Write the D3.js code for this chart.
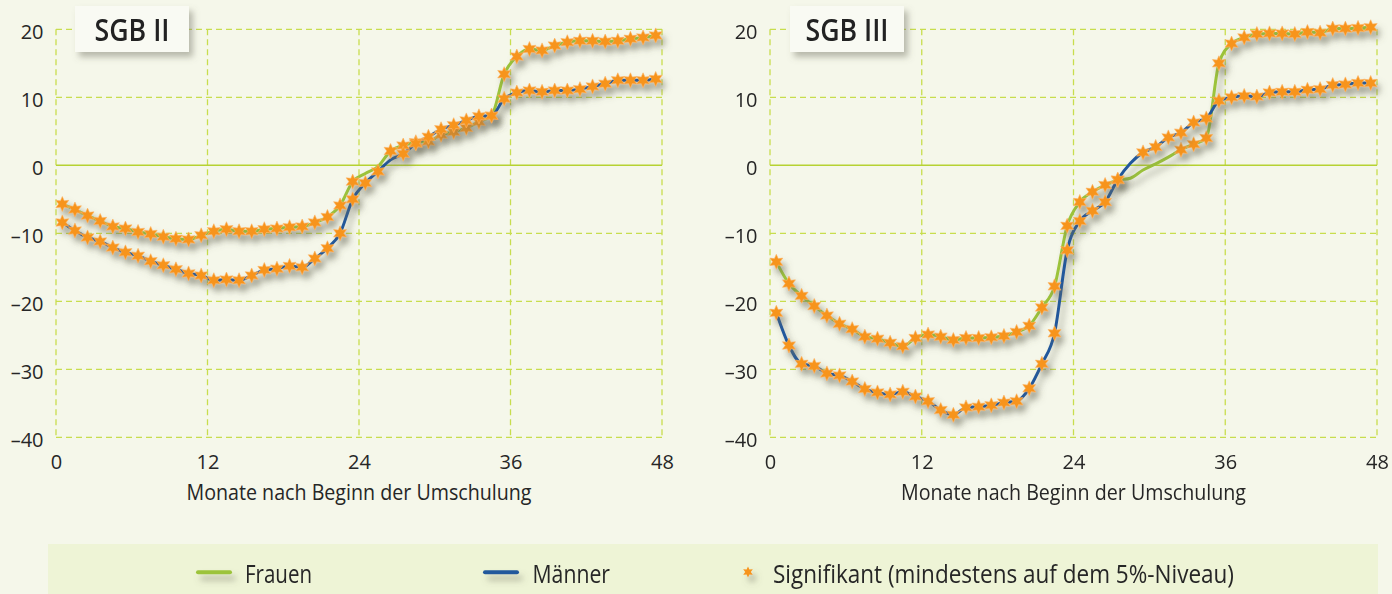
<!DOCTYPE html>
<html><head><meta charset="utf-8">
<script src="https://cdn.jsdelivr.net/npm/d3@7"></script>
<style>
html,body{margin:0;padding:0;background:#f5f7ea;}
svg{display:block;font-family:"Open Sans",sans-serif;}
</style></head>
<body><svg id="chart" width="1392" height="594"></svg>
<script>
// ---- data ----
const months = [1,2,3,4,5,6,7,8,9,10,11,12,13,14,15,16,17,18,19,20,21,22,23,24,
  25,26,27,28,29,30,31,32,33,34,35,36,37,38,39,40,41,42,43,44,45,46,47,48];
const xTicks = [0,12,24,36,48];
const yTicks = [-40,-30,-20,-10,0,10,20];
const panelTitles = ["SGB II","SGB III"];
const seriesNames = ["Frauen","Männer"];
const legendSigLabel = "Signifikant (mindestens auf dem 5%-Niveau)";
const axisTitle = "Monate nach Beginn der Umschulung";

const sgb2Frauen = [-5.7,-6.5,-7.4,-8.2,-9.0,-9.3,-9.8,-10.1,-10.5,-10.8,
  -10.9,-10.3,-9.7,-9.4,-9.7,-9.7,-9.4,-9.3,-9.1,-9.0,
  -8.4,-7.6,-5.9,-2.4,-1.2,-0.2,2.1,2.9,3.4,3.5,
  4.5,4.9,5.5,6.4,7.3,13.4,16.0,17.1,16.9,17.6,
  18.1,18.3,18.3,18.2,18.3,18.6,18.8,19.1];
const sgb2Maenner = [-8.4,-9.6,-10.6,-11.2,-12.1,-12.8,-13.3,-14.1,-14.7,-15.3,
  -15.9,-16.2,-16.9,-16.8,-16.9,-16.2,-15.4,-15.2,-14.8,-15.0,
  -13.7,-12.2,-10.0,-5.0,-2.6,-0.9,0.8,1.7,3.2,4.2,
  5.3,5.9,6.6,7.2,7.3,9.8,10.7,11.0,10.8,11.0,
  11.0,11.2,11.6,12.0,12.5,12.5,12.5,12.7];
const sgb3Frauen = [-14.2,-17.4,-19.2,-20.7,-22.1,-23.3,-24.1,-25.2,-25.5,-26.1,
  -26.6,-25.4,-24.9,-25.2,-25.7,-25.4,-25.4,-25.3,-25.1,-24.5,
  -23.6,-20.9,-17.8,-8.9,-5.4,-3.9,-2.9,-2.2,-1.9,-0.7,
  0.2,1.2,2.3,3.1,4.0,15.0,17.9,18.8,19.3,19.4,
  19.4,19.3,19.6,19.5,20.1,20.1,20.2,20.3];
const sgb3Maenner = [-21.7,-26.5,-29.2,-29.5,-30.6,-30.9,-31.8,-32.9,-33.4,-33.7,
  -33.3,-34.0,-34.7,-36.0,-36.7,-35.6,-35.5,-35.3,-34.9,-34.7,
  -32.8,-29.2,-24.7,-12.5,-8.2,-6.7,-5.4,-2.1,0.3,1.9,
  2.7,4.1,4.8,6.3,6.9,9.5,10.0,10.2,10.1,10.7,
  10.8,10.8,11.1,11.2,11.8,11.9,12.1,12.1];
// significance flags (1 = significant at 5% level)
const sgb2FrauenSig = [1,1,1,1,1,1,1,1,1,1,1,1,1,1,1,1,1,1,1,1,1,1,1,1,
  0,0,1,1,1,1,1,1,1,1,1,1,1,1,1,1,1,1,1,1,1,1,1,1];
const sgb2MaennerSig = [1,1,1,1,1,1,1,1,1,1,1,1,1,1,1,1,1,1,1,1,1,1,1,1,
  1,1,0,1,1,1,1,1,1,1,1,1,1,1,1,1,1,1,1,1,1,1,1,1];
const sgb3FrauenSig = [1,1,1,1,1,1,1,1,1,1,1,1,1,1,1,1,1,1,1,1,1,1,1,1,
  1,1,1,1,0,0,0,0,1,1,1,1,1,1,1,1,1,1,1,1,1,1,1,1];
const sgb3MaennerSig = [1,1,1,1,1,1,1,1,1,1,1,1,1,1,1,1,1,1,1,1,1,1,1,1,
  1,1,1,1,0,1,1,1,1,1,1,1,1,1,1,1,1,1,1,1,1,1,1,1];

// ---- styles ----
const colFrauen = "#9cc33a", colMaenner = "#22589c", colStar = "#f7941d";
const gridCol = "#c8dd4e", zeroCol = "#b6d232", textCol = "#262626";

const svg = d3.select("#chart");
const defs = svg.append("defs");
const sh = defs.append("filter").attr("id","shadow").attr("filterUnits","userSpaceOnUse")
  .attr("x",-50).attr("y",-50).attr("width",1500).attr("height",700);
sh.append("feDropShadow").attr("dx",4).attr("dy",6).attr("stdDeviation",3)
  .attr("flood-color","#6e6e5c").attr("flood-opacity",0.5);
const sh2 = defs.append("filter").attr("id","boxshadow").attr("x","-20%").attr("y","-30%").attr("width","150%").attr("height","180%");
sh2.append("feDropShadow").attr("dx",4).attr("dy",5).attr("stdDeviation",3)
  .attr("flood-color","#7a7a6a").attr("flood-opacity",0.5);

// six-pointed star symbol
const star6 = {
  draw(ctx, size) {
    const R = Math.sqrt(size) * 0.75, r = R * 0.5;
    for (let i = 0; i < 12; i++) {
      const a = Math.PI / 6 * i - Math.PI / 2;
      const rad = i % 2 === 0 ? R : r;
      const px = Math.cos(a) * rad, py = Math.sin(a) * rad;
      if (i === 0) ctx.moveTo(px, py); else ctx.lineTo(px, py);
    }
    ctx.closePath();
  }
};

const panels = [
  {title: panelTitles[0], x0: 56, x1: 662, titleBox:[75,6,114,46], titleW: 75,
   series:[{v:sgb2Frauen,s:sgb2FrauenSig,c:colFrauen},{v:sgb2Maenner,s:sgb2MaennerSig,c:colMaenner}]},
  {title: panelTitles[1], x0: 770, x1: 1377, titleBox:[790,6,114,46], titleW: 83,
   series:[{v:sgb3Frauen,s:sgb3FrauenSig,c:colFrauen},{v:sgb3Maenner,s:sgb3MaennerSig,c:colMaenner}]}
];
const yTop = 29.3, yBot = 437.3;

panels.forEach(p => {
  const x = d3.scaleLinear().domain([0,48]).range([p.x0, p.x1]);
  const y = d3.scaleLinear().domain([-40,20]).range([yBot, yTop]);
  const g = svg.append("g");

  // grid
  g.append("g").selectAll("line").data(yTicks.filter(d=>d!==0)).join("line")
    .attr("x1",p.x0).attr("x2",p.x1).attr("y1",d=>y(d)).attr("y2",d=>y(d))
    .attr("stroke",gridCol).attr("stroke-width",1.3).attr("stroke-dasharray","6,4");
  g.append("g").selectAll("line").data(xTicks).join("line")
    .attr("y1",yTop).attr("y2",yBot).attr("x1",d=>x(d)).attr("x2",d=>x(d))
    .attr("stroke",gridCol).attr("stroke-width",1.3).attr("stroke-dasharray","6,4");
  g.append("line").attr("x1",p.x0).attr("x2",p.x1).attr("y1",y(0)).attr("y2",y(0))
    .attr("stroke",zeroCol).attr("stroke-width",1.6);

  // axes
  const fmt = d => d < 0 ? "\u2013" + Math.abs(d) : String(d);
  const ya = g.append("g").attr("transform",`translate(${p.x0 - 12.5},0)`)
    .call(d3.axisLeft(y).tickValues(yTicks).tickSize(0).tickPadding(0).tickFormat(fmt));
  ya.select(".domain").remove();
  ya.selectAll("text").attr("font-size",20).attr("fill",textCol)
    .attr("font-family","Open Sans, sans-serif").attr("dy","9.5px");
  const xa = g.append("g").attr("transform",`translate(0,${yBot})`)
    .call(d3.axisBottom(x).tickValues(xTicks).tickSize(0).tickPadding(0));
  xa.select(".domain").remove();
  xa.selectAll("text").attr("font-size",20).attr("fill",textCol)
    .attr("font-family","Open Sans, sans-serif").attr("y",32).attr("dy",0);
  g.append("text").attr("x",(p.x0+p.x1)/2).attr("y",500).attr("text-anchor","middle")
    .attr("font-size",21.5).attr("fill",textCol)
    .attr("textLength",345).attr("lengthAdjust","spacingAndGlyphs").text(axisTitle);

  // series
  const line = d3.line().x((d,i)=>x(months[i]-0.5)).y(d=>y(d)).curve(d3.curveMonotoneX);
  p.series.forEach(s => {
    const sg = g.append("g").attr("filter","url(#shadow)");
    sg.append("path").attr("d",line(s.v)).attr("fill","none").attr("stroke",s.c).attr("stroke-width",3);
  });
  p.series.forEach(s => {
    const sg = g.append("g").attr("filter","url(#shadow)");
    sg.selectAll("path").data(s.v.map((v,i)=>({v,i})).filter(d=>s.s[d.i]===1)).join("path")
      .attr("transform",d=>`translate(${x(months[d.i]-0.5)},${y(d.v)})`)
      .attr("d",d3.symbol().type(star6).size(100)())
      .attr("fill",colStar).attr("stroke","#fbb465").attr("stroke-width",0.6);
  });

  // title box
  const [bx,by,bw,bh] = p.titleBox;
  g.append("rect").attr("x",bx).attr("y",by).attr("width",bw).attr("height",bh)
    .attr("fill","#f9faf3").attr("filter","url(#boxshadow)");
  g.append("text").attr("x",bx+bw/2).attr("y",by+35).attr("text-anchor","middle")
    .attr("font-size",31).attr("font-weight",600).attr("fill","#222")
    .attr("textLength",p.titleW).attr("lengthAdjust","spacingAndGlyphs").text(p.title);
});

// legend
const lg = svg.append("g");
lg.append("rect").attr("x",48).attr("y",544).attr("width",1330).attr("height",60).attr("fill","#eef4d6");
const legItems = [
  {label: seriesNames[0], c: colFrauen, x: 196, tx: 245, tw: 67},
  {label: seriesNames[1], c: colMaenner, x: 483, tx: 532.5, tw: 77.5}
];
legItems.forEach(it => {
  lg.append("rect").attr("x",it.x).attr("y",570.3).attr("width",36).attr("height",4).attr("rx",2)
    .attr("fill",it.c).attr("filter","url(#shadow)");
  lg.append("text").attr("x",it.tx).attr("y",583.3).attr("font-size",25).attr("fill",textCol)
    .attr("textLength",it.tw).attr("lengthAdjust","spacingAndGlyphs").text(it.label);
});
lg.append("g").attr("filter","url(#shadow)")
  .append("path").attr("transform","translate(748,572)").attr("d",d3.symbol().type(star6).size(55)())
  .attr("fill",colStar);
lg.append("text").attr("x",773).attr("y",583.3).attr("font-size",25).attr("fill",textCol)
  .attr("textLength",461).attr("lengthAdjust","spacingAndGlyphs").text(legendSigLabel);
</script></body></html>
